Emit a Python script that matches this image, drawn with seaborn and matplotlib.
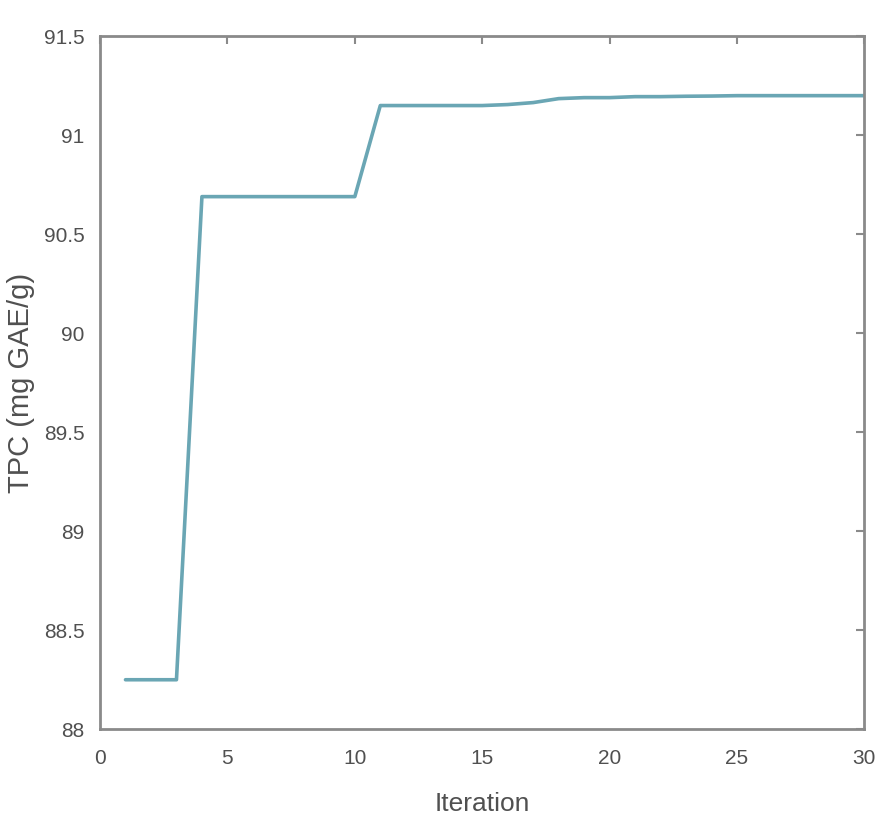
import numpy as np
import pandas as pd
import matplotlib
matplotlib.use("Agg")
import matplotlib.pyplot as plt
import seaborn as sns

# convergence curve
iterations = list(range(1, 31))
tpc_values = [
    88.25, 88.25, 88.25,
    90.69, 90.69, 90.69, 90.69, 90.69, 90.69, 90.69,
    91.15, 91.15, 91.15, 91.15, 91.15, 91.155,
    91.165, 91.185, 91.19, 91.19,
    91.195, 91.195, 91.197, 91.198, 91.2, 91.2, 91.2, 91.2, 91.2, 91.2,
]
x_ticks = [0, 5, 10, 15, 20, 25, 30]
y_ticks = [88, 88.5, 89, 89.5, 90, 90.5, 91, 91.5]
y_tick_labels = ["88", "88.5", "89", "89.5", "90", "90.5", "91", "91.5"]

sns.set_theme(style="white")
plt.rcParams["font.family"] = ["Liberation Sans", "DejaVu Sans"]

AXIS_GREY = "#8a8a8a"
TEXT_GREY = "#505050"
LINE_COLOR = "#6aa6b4"

df = pd.DataFrame({"Iteration": iterations, "TPC": tpc_values})

fig = plt.figure(figsize=(8.93, 8.24), dpi=100)
ax = fig.add_axes([0.112, 0.115, 0.856, 0.841])
sns.lineplot(data=df, x="Iteration", y="TPC", ax=ax, color=LINE_COLOR, linewidth=2.6)

ax.set_xlim(0, 30)
ax.set_ylim(88, 91.5)
ax.set_xticks(x_ticks)
ax.set_yticks(y_ticks)
ax.set_yticklabels(y_tick_labels)

for side in ["left", "right", "top", "bottom"]:
    ax.spines[side].set_visible(True)
    ax.spines[side].set_color(AXIS_GREY)
    ax.spines[side].set_linewidth(2.0)

ax.tick_params(axis="both", direction="in", length=6, width=1.5, color=AXIS_GREY,
               labelsize=15, labelcolor=TEXT_GREY, top=True, right=True)
ax.tick_params(axis="x", pad=14)
ax.tick_params(axis="y", pad=11)

ax.set_xlabel("Iteration", fontsize=19, color=TEXT_GREY)
ax.set_ylabel("TPC (mg GAE/g)", fontsize=21, color=TEXT_GREY)
ax.xaxis.set_label_coords(0.5, -0.09)
ax.yaxis.set_label_coords(-0.085, 0.5)

fig.savefig("out.png", dpi=100)
plt.close(fig)
